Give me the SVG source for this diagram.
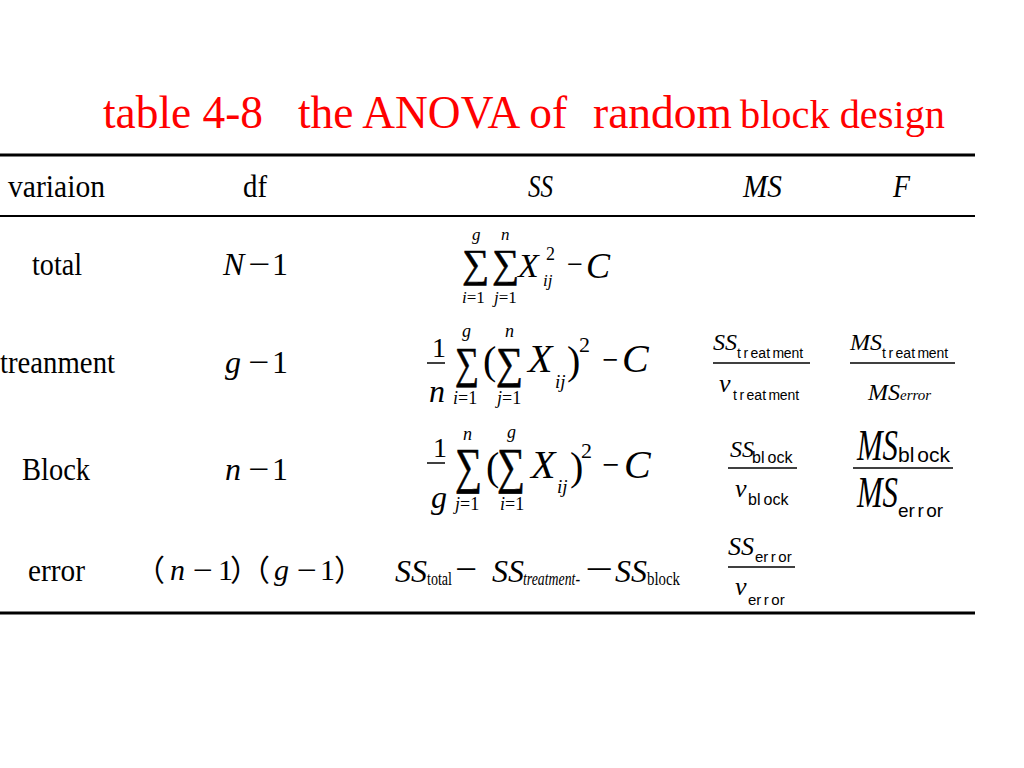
<svg xmlns="http://www.w3.org/2000/svg" width="1024" height="768" viewBox="0 0 1024 768">
<style>
text { font-family: "Liberation Serif", "Times New Roman", serif; fill: #000; }
.ttl { fill: #ff0000; }
.it { font-style: italic; }
.sans { font-family: "Liberation Sans", Arial, sans-serif; }
.cjk { font-family: "Noto Sans CJK SC", "Liberation Serif", sans-serif; }
.sig { stroke: #000; stroke-width: 0.6; }
.rule { stroke: #000; fill: none; }
.bar { stroke: #000; stroke-width: 1.5; }
</style>
<rect width="1024" height="768" fill="#fff"/>

<g id="title">
  <text class="ttl" x="103" y="128" font-size="46" textLength="160" lengthAdjust="spacingAndGlyphs">table 4-8</text>
  <text class="ttl" x="298" y="128" font-size="46" textLength="269" lengthAdjust="spacingAndGlyphs">the ANOVA of</text>
  <text class="ttl" x="593" y="128" font-size="46" textLength="139" lengthAdjust="spacingAndGlyphs">random</text>
  <text class="ttl" x="740" y="128" font-size="40" textLength="205" lengthAdjust="spacingAndGlyphs">block design</text>
</g>

<g id="rules">
  <line class="rule" x1="0" y1="155" x2="975" y2="155" stroke-width="3"/>
  <line class="rule" x1="0" y1="216" x2="975" y2="216" stroke-width="2"/>
  <line class="rule" x1="0" y1="613" x2="975" y2="613" stroke-width="3"/>
</g>

<g id="header">
  <text x="8" y="197" font-size="32" textLength="97" lengthAdjust="spacingAndGlyphs">variaion</text>
  <text x="243" y="197" font-size="32" textLength="24" lengthAdjust="spacingAndGlyphs">df</text>
  <text class="it" x="528" y="197" font-size="32" textLength="25" lengthAdjust="spacingAndGlyphs">SS</text>
  <text class="it" x="743" y="197" font-size="32" textLength="39" lengthAdjust="spacingAndGlyphs">MS</text>
  <text class="it" x="893" y="197" font-size="32" textLength="17" lengthAdjust="spacingAndGlyphs">F</text>
</g>

<g id="row-total">
  <text x="32" y="275" font-size="32" textLength="50" lengthAdjust="spacingAndGlyphs">total</text>
  <text class="it" x="223" y="275" font-size="32">N</text>
  <text x="248" y="275" font-size="32" textLength="22" lengthAdjust="spacingAndGlyphs">−</text>
  <text x="272" y="275" font-size="32">1</text>
  <text class="sig" x="462" y="277" font-size="40" textLength="27" lengthAdjust="spacingAndGlyphs">∑</text>
  <text class="sig" x="492" y="277" font-size="40" textLength="27" lengthAdjust="spacingAndGlyphs">∑</text>
  <text class="it" x="472" y="240" font-size="17">g</text>
  <text class="it" x="501" y="240" font-size="17">n</text>
  <text x="462" y="303" font-size="17"><tspan class="it">i</tspan>=1</text>
  <text x="494" y="303" font-size="17"><tspan class="it">j</tspan>=1</text>
  <text class="it" x="518" y="277" font-size="34">X</text>
  <text x="546" y="260" font-size="18">2</text>
  <text class="it" x="543" y="286" font-size="17">ij</text>
  <text x="567" y="274" font-size="30" textLength="16" lengthAdjust="spacingAndGlyphs">−</text>
  <text class="it" x="586" y="278" font-size="36">C</text>
</g>

<g id="row-treatment">
  <text x="0" y="373" font-size="32" textLength="115" lengthAdjust="spacingAndGlyphs">treanment</text>
  <text class="it" x="225" y="373" font-size="32">g</text>
  <text x="248" y="373" font-size="32" textLength="21" lengthAdjust="spacingAndGlyphs">−</text>
  <text x="272" y="373" font-size="32">1</text>
  <text x="432" y="357" font-size="28">1</text>
  <line class="bar" x1="427" y1="363" x2="445" y2="363"/>
  <text class="it" x="429" y="402" font-size="32">n</text>
  <text class="sig" x="455" y="378" font-size="44" textLength="24" lengthAdjust="spacingAndGlyphs">∑</text>
  <text class="it" x="462" y="337" font-size="18">g</text>
  <text x="453" y="404" font-size="18"><tspan class="it">i</tspan>=1</text>
  <text x="483" y="374" font-size="40">(</text>
  <text class="sig" x="496" y="378" font-size="44" textLength="27" lengthAdjust="spacingAndGlyphs">∑</text>
  <text class="it" x="505" y="337" font-size="18">n</text>
  <text x="497" y="404" font-size="18"><tspan class="it">j</tspan>=1</text>
  <text class="it" x="528" y="372" font-size="40">X</text>
  <text class="it" x="555" y="388" font-size="19">ij</text>
  <text x="567" y="374" font-size="40">)</text>
  <text x="579" y="352" font-size="22">2</text>
  <text x="602" y="371" font-size="34" textLength="16" lengthAdjust="spacingAndGlyphs">−</text>
  <text class="it" x="622" y="372" font-size="40">C</text>
  <text class="it" x="713" y="350" font-size="24">SS</text>
  <text class="sans" x="737" y="358" font-size="14" dx="0 2.5 2.5 0 0 2.5 -0.5 0 0">treatment</text>
  <line class="bar" x1="713" y1="363" x2="810" y2="363"/>
  <text class="it" x="719" y="392" font-size="26">ν</text>
  <text class="sans" x="733" y="400" font-size="14" dx="0 2.5 2.5 0 0 2.5 -0.5 0 0">treatment</text>
  <text class="it" x="850" y="350" font-size="24">MS</text>
  <text class="sans" x="882" y="358" font-size="14" dx="0 2.5 2.5 0 0 2.5 -0.5 0 0">treatment</text>
  <line class="bar" x1="850" y1="363" x2="955" y2="363"/>
  <text class="it" x="868" y="400" font-size="24">MS</text>
  <text class="it" x="900" y="400" font-size="15">error</text>
</g>

<g id="row-block">
  <text x="22" y="480" font-size="32" textLength="68" lengthAdjust="spacingAndGlyphs">Block</text>
  <text class="it" x="225" y="480" font-size="32">n</text>
  <text x="248" y="480" font-size="32" textLength="21" lengthAdjust="spacingAndGlyphs">−</text>
  <text x="272" y="480" font-size="32">1</text>
  <text x="433" y="457" font-size="28">1</text>
  <line class="bar" x1="427" y1="463" x2="445" y2="463"/>
  <text class="it" x="431" y="508" font-size="32">g</text>
  <text class="sig" x="455" y="483" font-size="50" textLength="27" lengthAdjust="spacingAndGlyphs">∑</text>
  <text class="it" x="463" y="440" font-size="18">n</text>
  <text x="455" y="510" font-size="18"><tspan class="it">j</tspan>=1</text>
  <text x="486" y="480" font-size="40">(</text>
  <text class="sig" x="497" y="483" font-size="50" textLength="28" lengthAdjust="spacingAndGlyphs">∑</text>
  <text class="it" x="507" y="438" font-size="18">g</text>
  <text x="500" y="510" font-size="18"><tspan class="it">i</tspan>=1</text>
  <text class="it" x="531" y="478" font-size="40">X</text>
  <text class="it" x="557" y="493" font-size="19">ij</text>
  <text x="570" y="480" font-size="40">)</text>
  <text x="581" y="458" font-size="22">2</text>
  <text x="602" y="476" font-size="34" textLength="17" lengthAdjust="spacingAndGlyphs">−</text>
  <text class="it" x="624" y="478" font-size="40">C</text>
  <text class="it" x="730" y="457" font-size="24">SS</text>
  <text class="sans" x="752" y="463" font-size="16" dx="0 0 3 0 0">block</text>
  <line class="bar" x1="728" y1="468" x2="797" y2="468"/>
  <text class="it" x="735" y="497" font-size="26">ν</text>
  <text class="sans" x="748" y="505" font-size="16" dx="0 0 3 0 0">block</text>
  <text class="it" x="857" y="460" font-size="44" textLength="41" lengthAdjust="spacingAndGlyphs">MS</text>
  <text class="sans" x="898" y="462" font-size="21" dx="0 0 3 0 0">block</text>
  <line class="bar" x1="853" y1="468" x2="953" y2="468" stroke-width="2"/>
  <text class="it" x="857" y="507" font-size="44" textLength="41" lengthAdjust="spacingAndGlyphs">MS</text>
  <text class="sans" x="898" y="517" font-size="19" dx="0 0 2.5 2.5 0">error</text>
</g>

<g id="row-error">
  <text x="28" y="581" font-size="32" textLength="57" lengthAdjust="spacingAndGlyphs">error</text>
  <text class="cjk" x="135" y="581" font-size="30">（</text>
  <text class="it" x="170" y="580" font-size="30">n</text>
  <text x="193" y="580" font-size="30" textLength="20" lengthAdjust="spacingAndGlyphs">−</text>
  <text x="218" y="580" font-size="30">1</text>
  <text class="cjk" x="230" y="581" font-size="30">）</text>
  <text class="cjk" x="240" y="581" font-size="30">（</text>
  <text class="it" x="274" y="580" font-size="30">g</text>
  <text x="297" y="580" font-size="30" textLength="20" lengthAdjust="spacingAndGlyphs">−</text>
  <text x="320" y="580" font-size="30">1</text>
  <text class="cjk" x="334" y="581" font-size="30">）</text>
  <text class="it" x="395" y="582" font-size="32">SS</text>
  <text x="427" y="585" font-size="18" textLength="25" lengthAdjust="spacingAndGlyphs">total</text>
  <text x="455" y="581" font-size="36" textLength="22" lengthAdjust="spacingAndGlyphs">−</text>
  <text class="it" x="492" y="582" font-size="32">SS</text>
  <text class="it" x="523" y="585" font-size="18" textLength="57" lengthAdjust="spacingAndGlyphs">treatment-</text>
  <text x="585" y="581" font-size="36" textLength="28" lengthAdjust="spacingAndGlyphs">−</text>
  <text class="it" x="615" y="582" font-size="32">SS</text>
  <text x="647" y="585" font-size="18" textLength="33" lengthAdjust="spacingAndGlyphs">block</text>
  <text class="it" x="728" y="555" font-size="26">SS</text>
  <text class="sans" x="755" y="562" font-size="15" dx="0 0 2.5 2.5 0">error</text>
  <line class="bar" x1="728" y1="567" x2="795" y2="567"/>
  <text class="it" x="735" y="595" font-size="26">ν</text>
  <text class="sans" x="748" y="605" font-size="15" dx="0 0 2.5 2.5 0">error</text>
</g>
</svg>
